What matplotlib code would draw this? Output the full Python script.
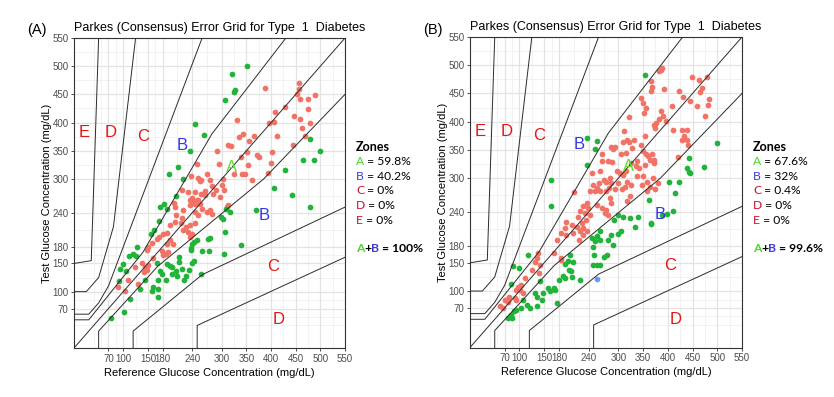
import matplotlib
matplotlib.use("Agg")
import matplotlib.pyplot as plt
from matplotlib.text import Annotation

# ---------------- data ----------------
# Panel A: points by zone  (reference, test)
a_zoneA = [(388,461),(456,471),(457,460),(453,451),(459,441),(474,441),(490,449),(474,424),(429,427),(408,418),
           (447,411),(458,406),(405,401),(396,400),(479,399),(463,391),(469,377),(411,376),(330,405),(366,376),
           (344,379),(334,375),(356,368),(313,360),(319,358),(290,349),(352,348),(371,342),(376,339),(338,338),
           (402,348),(444,361),(294,327),(250,327),(353,324),(399,328),(393,311),(269,308),(238,306),(340,308),
           (325,308),(348,308),(252,301),(258,298),(255,296),(275,298),(302,299),(361,298),(281,288),(300,290),
           (288,280),(304,280),(220,281),(231,277),(246,276),(258,274),(266,278),
           (240,266),(250,263),(236,263),(252,262),(243,259),(235,253),(245,255),(256,256),(266,271),(283,274),
           (296,268),(260,247),(270,241),(281,237),(276,244),(246,241),(252,236),(221,244),(208,236),(220,230),
           (310,250),(312,253),(205,250),(203,258),(217,221),(227,215),(235,218),(246,221),(222,209),(232,206),
           (240,202),(235,197),(205,224),(195,218),(189,204),(181,203),(173,197),(168,194),(195,191),(200,185),
           (188,185),(158,186),(151,179),(148,173),(179,172),(187,167),(191,170),(181,165),(137,151),(144,144),
           (148,138),(142,135),(151,147),(161,159),(124,144),(110,120),(90,108),(104,102),(129,113)]
a_zoneB = [(352,500),(321,486),(325,455),(327,457),(306,440),(245,397),(263,378),(235,349),(212,322),(193,309),
           (221,300),(478,370),(500,350),(464,334),(488,334),(429,315),(405,283),(442,272),
           (206,270),(479,251),(183,255),(175,250),(189,247),(173,225),(163,210),(156,202),(127,179),(119,166),
           (112,164),(125,164),(99,149),(93,140),(106,136),(91,119),(114,87),(102,63),(76,53),(370,244),
           (308,246),(317,241),(299,233),(302,229),(307,205),(339,182),(305,166),(276,196),(271,194),(250,192),
           (244,188),(240,184),(238,178),(237,173),(260,172),(274,172),(213,162),(244,155),(240,151),(214,152),
           (188,149),(194,146),(198,144),(168,150),(175,136),(220,140),(206,137),(233,138),(178,131),(198,131),
           (258,131),(171,121),(187,120),(210,127),(227,127),(223,120),(161,108),(170,104),(158,102),(171,91),
           (145,120),(133,105)]
a_zoneC = []

# Panel B: points by zone
b_zoneA = [(386,492),(388,495),(382,489),(367,472),(369,461),(365,455),(392,458),(423,455),(448,479),(464,473),
           (480,479),(469,460),(466,453),(431,444),(445,436),(458,427),(484,441),(481,429),(346,442),(350,433),
           (356,424),(352,416),(409,427),(386,419),(390,410),(383,404),(377,398),(372,395),(321,408),(475,410),
           (396,401),(374,389),(410,386),(429,385),(439,385),(433,374),(438,368),(428,368),(441,359),(311,383),
           (353,374),(332,368),(318,367),(322,364),(309,364),(294,355),(286,356),(290,352),(345,359),(350,348),
           (355,343),(359,340),(369,342),(315,345),(327,353),(305,342),(373,332),(372,327),(421,338),(266,330),
           (280,330),(287,329),(266,342),(337,330),(335,322),(342,318),(354,324),(364,332),(326,326),(315,312),
           (297,312),(303,309),(247,309),(263,312),(283,300),(276,294),(286,291),(270,297),(260,291),(310,306),
           (317,294),(326,287),(313,285),(300,291),(307,280),(337,303),(350,303),(357,294),(371,300),(347,288),
           (364,285),(357,277),(381,291),(375,281),(249,288),(257,282),(253,277),(243,277),(263,278),(281,282),
           (293,280),(276,277),(211,275),
           (236,256),(229,250),(239,247),(222,241),(233,238),(243,235),(219,232),(235,226),(226,220),(217,214),
           (229,212),(222,206),(236,206),(228,200),(221,191),(256,253),(266,247),(273,238),(280,235),(276,244),
           (286,256),(317,259),(324,268),(283,265),(195,223),(206,217),(192,212),(185,203),(195,200),(208,203),
           (175,191),(169,167),(185,158),(183,155),(138,167),(135,158),(131,152),(142,146),(140,132),(125,138),
           (111,123),(104,111),(98,108),(93,102),(101,102),(108,96),(91,87),(94,84),(78,90),(71,84),(61,73),
           (67,70),(76,81)]
b_zoneB = [(354,482),(237,371),(257,365),(252,351),(237,323),(164,297),(499,363),(443,335),(438,318),(442,311),
           (445,309),(474,320),(402,294),(423,294),(415,274),
           (164,250),(361,262),(410,241),(398,237),(389,235),(367,220),(365,218),(340,231),(334,213),(324,229),
           (310,232),(300,235),(291,225),(305,206),(299,201),(286,200),(290,182),(278,164),(270,161),(280,191),
           (263,206),(256,197),(246,194),(253,188),(263,191),(249,178),(251,164),(256,146),(263,146),(248,146),
           (202,164),(199,154),(209,151),(192,148),(201,138),(205,135),(189,126),(206,125),(192,123),(179,120),
           (222,120),(169,105),(172,102),(158,105),(162,100),(148,96),(142,117),(131,96),(135,90),(145,84),
           (175,78),(118,164),(86,144),(100,141),(82,113),(108,84),(115,76),(104,70),(94,67),(88,64),(82,58),
           (76,52),(84,52),(121,70),(136,73)]
b_zoneC = [(257,121)]

titles = ["Parkes (Consensus) Error Grid for Type  1  Diabetes"] * 2
panel_tags = ["(A)", "(B)"]
zone_names = ["A", "B", "C", "D", "E"]
zone_pcts_A = ["59.8%", "40.2%", "0%", "0%", "0%"]
zone_pcts_B = ["67.6%", "32%", "0.4%", "0%", "0%"]
ab_total = ["100%", "99.6%"]
ticks = [70, 100, 150, 180, 240, 300, 350, 400, 450, 500, 550]
minor_ticks = [40, 55, 85, 125, 165, 210, 270, 325, 375, 425, 475, 525]

# Parkes type 1 zone boundaries
bounds = {
    "ze":  ([0, 35, 50], [150, 155, 550]),
    "zdu": ([0, 25, 50, 80, 125], [100, 100, 125, 215, 550]),
    "zdl": ([250, 250, 550], [0, 40, 161]),
    "zcu": ([0, 30, 50, 70, 260], [60, 60, 80, 110, 550]),
    "zcl": ([120, 120, 260, 550], [0, 30, 130, 250]),
    "zbu": ([0, 30, 140, 280, 430], [50, 50, 170, 380, 550]),
    "zbl": ([50, 50, 170, 385, 550], [0, 30, 145, 300, 450]),
    "id":  ([0, 550], [0, 550]),
}
zone_labels = [("A", 320, 320), ("B", 220, 360), ("B", 385, 235), ("C", 140, 375),
               ("C", 405, 145), ("D", 415, 50), ("D", 75, 383), ("E", 21, 383)]

# ---------------- styling ----------------
AX_FONT = "Liberation Sans"
LEG_FONT = "Lato"
PT_COLORS = {"A": "#F27366", "B": "#22B33A", "C": "#619CFF"}
LAB_COLORS = {"A": "#5EE02E", "B": "#3535E6", "C": "#E31515", "D": "#E31515", "E": "#E31515"}
LEG_COLORS = {"A": "#4CD62A", "B": "#3B3BDB", "C": "#C8102E", "D": "#C8102E", "E": "#C8102E"}
LEG_FS = 8.7

fig = plt.figure(figsize=(8.34, 3.97), dpi=100)
fig.patch.set_facecolor("white")

axes_pos = [[74/834, 1-348/397, 271/834, 310/397],
            [470/834, 1-347.5/397, 272/834, 310.5/397]]

datasets = [(a_zoneA, a_zoneB, a_zoneC), (b_zoneA, b_zoneB, b_zoneC)]
pcts = [zone_pcts_A, zone_pcts_B]
legend_x = [356/834, 753/834]
tag_x = [27/834, 423/834]


def chain(prev, text, **kw):
    return fig.add_artist(Annotation(text, xy=(1, 0.5), xycoords=prev, va="center", ha="left",
                                     fontsize=LEG_FS, family=LEG_FONT, **kw))


for i in range(2):
    ax = fig.add_axes(axes_pos[i])
    ax.set_xlim(0, 550)
    ax.set_ylim(0, 550)
    ax.set_facecolor("white")
    for m in minor_ticks:
        ax.axvline(m, color="#F0F0F0", lw=0.6, zorder=0)
        ax.axhline(m, color="#F0F0F0", lw=0.6, zorder=0)
    for t in ticks:
        ax.axvline(t, color="#E3E3E3", lw=0.9, zorder=0)
        ax.axhline(t, color="#E3E3E3", lw=0.9, zorder=0)
    ax.set_xticks(ticks)
    ax.set_yticks(ticks)
    ax.set_xticklabels([str(t) for t in ticks], fontsize=7, color="#4D4D4D", family=AX_FONT)
    ax.set_yticklabels([str(t) for t in ticks], fontsize=7, color="#4D4D4D", family=AX_FONT)
    ax.tick_params(length=2.5, width=0.6, color="#333333", pad=1.5)
    for s in ax.spines.values():
        s.set_color("#333333")
        s.set_linewidth(0.8)

    for zname, pts in zip(["A", "B", "C"], datasets[i]):
        if pts:
            xs = [p[0] for p in pts]
            ys = [p[1] for p in pts]
            ax.scatter(xs, ys, s=17, color=PT_COLORS[zname], linewidths=0, zorder=2)

    for key, (bx, by) in bounds.items():
        ax.plot(bx, by, color="#2b2b2b", lw=0.7, zorder=3)

    for lab, lx, ly in zone_labels:
        ax.text(lx, ly, lab, color=LAB_COLORS[lab], fontsize=12, family=AX_FONT,
                ha="center", va="center", zorder=4)

    ax.set_xlabel("Reference Glucose Concentration (mg/dL)", fontsize=8, family=AX_FONT, labelpad=3)
    ax.set_ylabel("Test Glucose Concentration (mg/dL)", fontsize=8, family=AX_FONT, labelpad=0.5)
    ax.set_title(titles[i], fontsize=9, family=AX_FONT, loc="left", pad=5)

    fig.text(tag_x[i], 1-30/397, panel_tags[i], fontsize=10.5, family=AX_FONT,
             ha="left", va="center")

    lx = legend_x[i]
    fig.text(lx, 1-147/397, "Zones", fontsize=LEG_FS + 0.3, family=LEG_FONT, weight="bold",
             ha="left", va="center")
    for k, (zl, pc) in enumerate(zip(zone_names, pcts[i])):
        yy = 1-(161.7 + 14.6*k)/397
        t1 = fig.text(lx, yy, zl, fontsize=LEG_FS, family=LEG_FONT, color=LEG_COLORS[zl],
                      ha="left", va="center")
        chain(t1, " = " + pc, color="black")
    yy = 1-248.3/397
    p1 = fig.text(lx, yy, "A", fontsize=LEG_FS, family=LEG_FONT, color=LEG_COLORS["A"],
                  weight="bold", ha="left", va="center")
    p2 = chain(p1, "+", weight="bold", color="black")
    p3 = chain(p2, "B", weight="bold", color=LEG_COLORS["B"])
    chain(p3, " = " + ab_total[i], weight="bold", color="black")

fig.savefig("out.png", dpi=100, facecolor="white")
